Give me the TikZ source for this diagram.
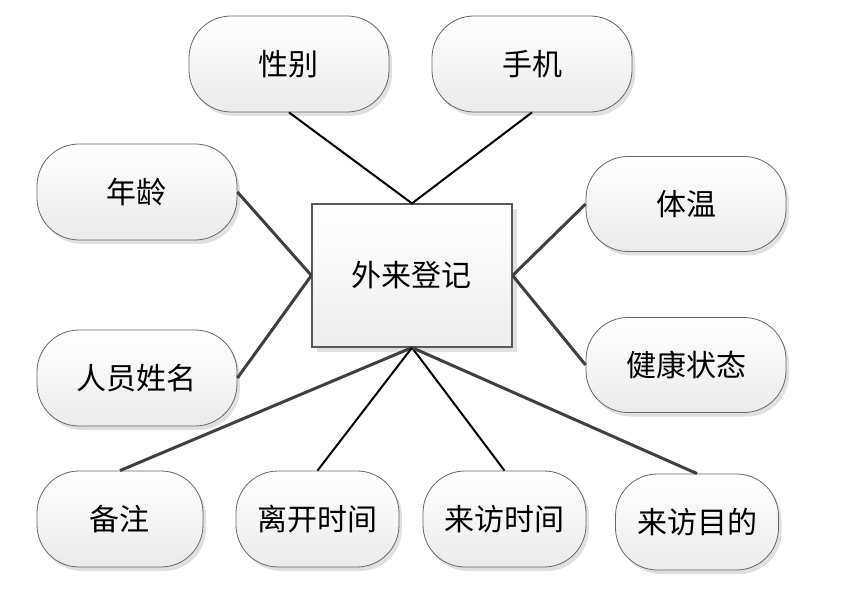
\documentclass[tikz,border=0pt]{standalone}
\usepackage{fontspec}
\setmainfont{Noto Sans CJK SC}
\usetikzlibrary{positioning, shapes.misc, shadows}

\begin{document}
\begin{tikzpicture}[
		x=1pt, y=1pt,
		pill/.style={
			draw=black!60,
			line width=0.8pt,
			rounded corners=42pt,
			top color=white,
			bottom color=black!8,
			drop shadow={shadow xshift=3pt, shadow yshift=-4pt, fill=black!12, opacity=1},
			minimum width=200pt,
			minimum height=96pt,
			inner sep=0pt,
			font=\fontsize{30}{34}\selectfont
		},
		short/.style={pill, minimum width=163pt},
		hub/.style={
			draw=black!65,
			line width=1.2pt,
			top color=white,
			bottom color=black!7,
			drop shadow={shadow xshift=5pt, shadow yshift=-5pt, fill=black!12, opacity=1},
			minimum width=200pt,
			minimum height=143pt,
			inner sep=0pt,
			font=\fontsize{30}{34}\selectfont
		},
		link/.style={draw=black!75, line width=3pt},
		thinlink/.style={draw=black, line width=2pt}
		]
		
		\useasboundingbox (-412,275.5) rectangle (437,-321.5);
		
		\node[hub] (reg) at (0,0) {外来登记};
		
		\node[pill, above=91pt of reg, xshift=-123pt] (sex) {性别};
		
		\node[pill, above=91pt of reg, xshift=120pt] (phone) {手机};
		
		\node[pill, left=74pt of reg, yshift=83.5pt] (age) {年龄};
		
		\node[pill, left=74pt of reg, yshift=-102.5pt] (name) {人员姓名};
		
		\node[pill, right=73pt of reg, yshift=71.5pt, minimum height=95pt] (temp) {体温};
		
		\node[pill, right=73pt of reg, yshift=-89.5pt, minimum height=95pt] (health) {健康状态};
		
		\node[short, below=123pt of reg, xshift=-292pt, minimum width=166pt] (note) {备注};
		
		\node[short, below=123pt of reg, xshift=-94.5pt] (leave) {离开时间};
		
		\node[short, below=123pt of reg, xshift=92.5pt] (arrive) {来访时间};
		
		\node[short, below=126pt of reg, xshift=285pt] (purpose) {来访目的};
		
		\draw[thinlink] (sex.south) -- (reg.north);
		\draw[thinlink] (phone.south) -- (reg.north);
		
		\draw[link] (age.east) -- (reg.west);
		\draw[link] (name.east) -- (reg.west);
		
		\draw[link] (temp.west) -- (reg.east);
		\draw[link] (health.west) -- (reg.east);
		
		\draw[link] (reg.south) -- (note.north);
		\draw[thinlink] (reg.south) -- (leave.north);
		\draw[thinlink] (reg.south) -- (arrive.north);
		\draw[link] (reg.south) -- (purpose.north);
		
	\end{tikzpicture}
\end{document}
